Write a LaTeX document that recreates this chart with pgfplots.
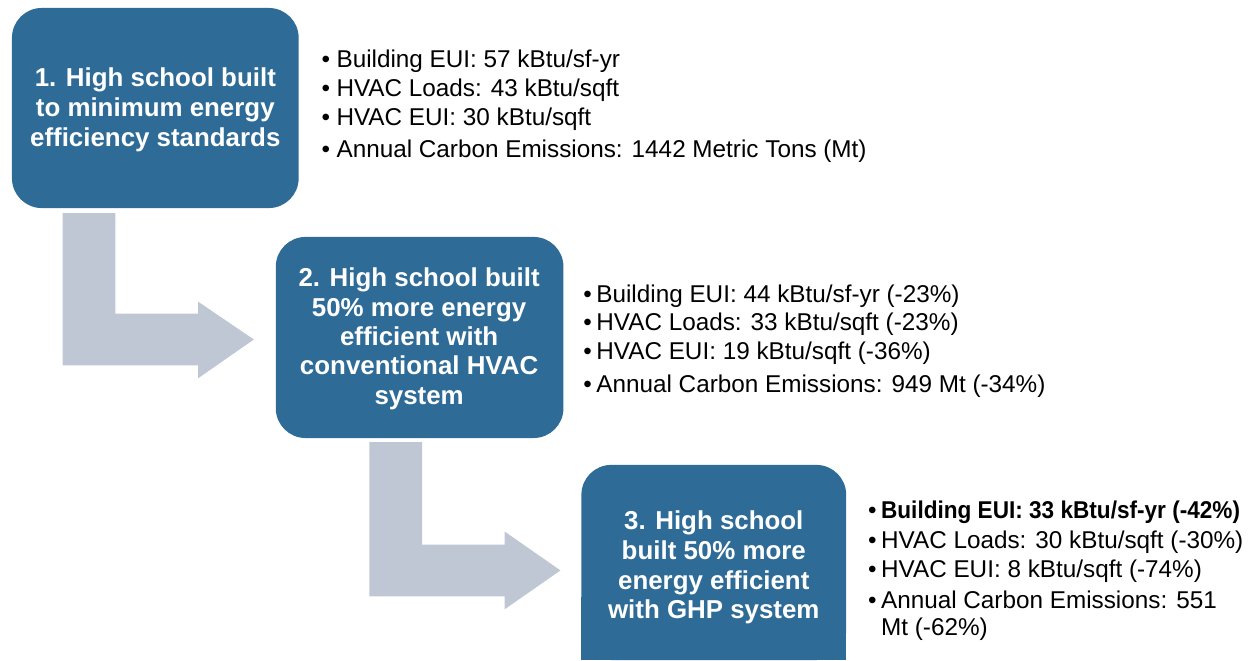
\documentclass[border=0pt]{standalone}
\usepackage{pgfplots}
\pgfplotsset{compat=1.18}
\usepackage{fontspec}
\setmainfont{Liberation Sans}
\usepackage{graphicx}
\definecolor{boxcol}{HTML}{2E6B96}
\definecolor{arrcol}{HTML}{C0C7D4}
\newcommand{\bul}{\fontsize{12.2}{14}\selectfont}
\newcommand{\bx}{\fontsize{13}{15}\selectfont\bfseries}
\begin{document}
\begin{tikzpicture}
\begin{axis}[hide axis, scale only axis, width=625pt, height=331.5pt,
  xmin=0, xmax=1250, ymin=0, ymax=663, y dir=reverse, clip=false,
  every node/.style={inner sep=0pt, outer sep=0pt}]
\path (0,0) rectangle (1250,663);
% arrows
\addplot[fill=arrcol, draw=none] coordinates {(63,214) (116,214) (116,315) (199,315) (199,303) (255,341) (199,380) (199,367) (63,367)} -- cycle;
\addplot[fill=arrcol, draw=none] coordinates {(371,444) (424,444) (424,547) (507,547) (507,534) (563,573) (507,612) (507,599) (371,599)} -- cycle;
% boxes
\fill[boxcol, rounded corners=15pt] (12,8) rectangle (300,209);
\fill[boxcol, rounded corners=15pt] (277,238) rectangle (566,440);
\fill[boxcol, rounded corners=15pt] (584,467) rectangle (850,663);
\fill[boxcol] (584,600) rectangle (850,663);
% box texts
\begin{scope}[every node/.append style={anchor=base, text=white, font=\bx}]
\node at (156,87) {1. High school built};
\node at (156,117) {to minimum energy};
\node at (156,147) {efficiency standards};
\node at (421,288) {2. High school built};
\node at (421,317.5) {50\% more energy};
\node at (421,347) {efficient with};
\node at (421,376.5) {conventional HVAC};
\node at (421,406) {system};
\node at (717,532) {3. High school};
\node at (717,562) {built 50\% more};
\node at (717,592) {energy efficient};
\node at (717,621) {with GHP system};
\end{scope}
% bullets
\begin{scope}[every node/.append style={anchor=base west, font=\bul}]
\node at (316,68) {\textbullet};   \node at (331,68) {Building EUI: 57 kBtu/sf-yr};
\node at (316,97) {\textbullet};   \node at (331,97) {HVAC Loads: 43 kBtu/sqft};
\node at (316,126) {\textbullet};  \node at (331,126) {HVAC EUI: 30 kBtu/sqft};
\node at (316,158) {\textbullet};  \node at (331,158) {Annual Carbon Emissions: 1442 Metric Tons (Mt)};
\node at (579,304) {\textbullet};  \node at (592,304) {Building EUI: 44 kBtu/sf-yr (-23\%)};
\node at (579,332) {\textbullet};  \node at (592,332) {HVAC Loads: 33 kBtu/sqft (-23\%)};
\node at (579,361) {\textbullet};  \node at (592,361) {HVAC EUI: 19 kBtu/sqft (-36\%)};
\node at (579,394) {\textbullet};  \node at (592,394) {Annual Carbon Emissions: 949 Mt (-34\%)};
\node at (865,521) {\textbullet};  \node at (878,521) {\scalebox{0.93}[1]{\bfseries Building EUI: 33 kBtu/sf-yr (-42\%)}};
\node at (865,551) {\textbullet};  \node at (878,551) {HVAC Loads: 30 kBtu/sqft (-30\%)};
\node at (865,580) {\textbullet};  \node at (878,580) {HVAC EUI: 8 kBtu/sqft (-74\%)};
\node at (865,611) {\textbullet};  \node at (878,611) {Annual Carbon Emissions: 551};
\node at (878,638) {Mt (-62\%)};
\end{scope}
\end{axis}
\end{tikzpicture}
\end{document}
